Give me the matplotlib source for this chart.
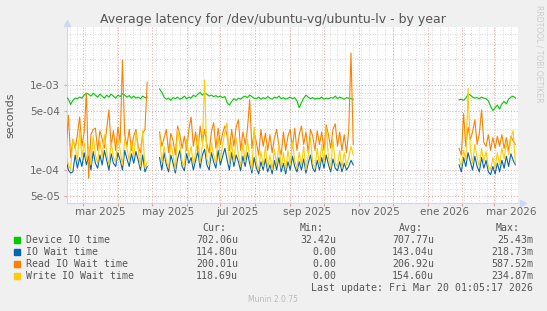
import numpy as np
import pandas as pd
import matplotlib
matplotlib.use('Agg')
import matplotlib.pyplot as plt
import matplotlib.ticker as ticker
from matplotlib.patches import Rectangle

# latency values in microseconds, one sample every 2 days, three segments (gaps between)
seg_starts = ['2025-02-14', '2025-05-08', '2026-01-29']

device_s1 = [720, 680, 590, 660, 700, 690, 720, 700, 760, 800,
             780, 740, 800, 760, 720, 780, 740, 700, 760, 720,
             780, 740, 700, 760, 730, 790, 760, 720, 750, 700,
             740, 700, 720, 690, 740, 710, 720]
iowait_s1 = [130, 100, 92, 95, 150, 105, 140, 110, 160, 115,
             145, 100, 165, 120, 105, 150, 115, 170, 130, 100,
             155, 120, 110, 160, 130, 100, 170, 135, 110, 155,
             120, 165, 130, 100, 150, 95, 110]
read_s1 = [170, 440, 140, 230, 180, 260, 420, 190, 280, 800,
           80, 260, 300, 310, 170, 290, 230, 180, 300, 510,
           190, 290, 170, 320, 210, 1970, 260, 190, 300, 170,
           250, 300, 190, 160, 270, 300, 1080]
write_s1 = [150, 115, 100, 230, 190, 125, 300, 140, 210, 130,
            190, 115, 250, 150, 120, 220, 140, 260, 160, 115,
            210, 140, 125, 240, 170, 115, 230, 180, 130, 220,
            140, 280, 170, 110, 290, 105, 125]

device_s2 = [900, 820, 720, 680, 700, 660, 710, 690, 720, 680,
             700, 740, 690, 720, 700, 760, 730, 780, 820, 760,
             800, 780, 740, 760, 730, 750, 720, 740, 710, 730,
             620, 580, 640, 690, 660, 700, 680, 720, 740, 710,
             760, 730, 700, 690, 720, 680, 710, 690, 730, 700,
             680, 720, 700, 740, 690, 710, 680, 700, 720, 690,
             710, 650, 540, 620, 700, 760, 720, 690, 710, 680,
             700, 690, 720, 680, 700, 690, 710, 700, 740, 690,
             720, 700, 680, 710, 700, 690, 680]
iowait_s2 = [140, 100, 160, 115, 95, 150, 120, 92, 135, 170,
             110, 98, 155, 120, 140, 100, 130, 165, 105, 150,
             175, 115, 100, 160, 125, 105, 170, 115, 145, 180,
             130, 100, 160, 110, 150, 125, 98, 145, 110, 160,
             120, 92, 140, 105, 90, 125, 100, 135, 95, 115,
             90, 130, 100, 140, 95, 120, 90, 125, 100, 145,
             110, 95, 125, 100, 135, 92, 120, 150, 105, 95,
             130, 100, 140, 105, 150, 115, 95, 135, 105, 98,
             125, 95, 120, 100, 110, 130, 115]
read_s2 = [280, 190, 240, 300, 160, 270, 220, 150, 330, 260,
           180, 250, 170, 300, 420, 190, 280, 160, 330, 210,
           300, 200, 160, 280, 360, 180, 310, 200, 270, 330,
           250, 170, 300, 190, 320, 390, 170, 280, 200, 300,
           670, 180, 280, 210, 150, 300, 190, 270, 170, 260,
           160, 240, 300, 190, 150, 280, 170, 250, 300, 180,
           310, 170, 260, 330, 200, 280, 160, 300, 250, 170,
           290, 200, 280, 170, 340, 260, 180, 300, 350, 190,
           280, 170, 260, 160, 290, 2380, 200]
write_s2 = [260, 120, 190, 130, 105, 210, 150, 100, 300, 200,
            125, 110, 230, 140, 190, 115, 160, 260, 120, 200,
            1150, 135, 115, 210, 150, 120, 250, 130, 200, 280,
            360, 115, 210, 125, 240, 150, 110, 210, 125, 230,
            140, 100, 320, 120, 100, 165, 110, 190, 105, 150,
            100, 175, 115, 200, 105, 160, 100, 170, 115, 220,
            130, 105, 160, 115, 190, 100, 150, 240, 120, 105,
            180, 110, 200, 120, 320, 140, 105, 230, 120, 110,
            170, 105, 160, 115, 140, 190, 150]

device_s3 = [670, 680, 660, 700, 780, 760, 720, 700, 710, 690,
             720, 700, 690, 650, 560, 500, 540, 580, 520, 600,
             640, 600, 680, 720, 740, 702]
iowait_s3 = [115, 95, 140, 110, 160, 125, 100, 145, 110, 95,
             140, 105, 130, 95, 88, 110, 90, 120, 95, 130,
             105, 145, 110, 155, 130, 115]
read_s3 = [180, 150, 460, 190, 320, 230, 280, 390, 200, 270,
           510, 210, 190, 260, 170, 240, 180, 250, 190, 260,
           180, 240, 170, 250, 220, 200]
write_s3 = [135, 110, 170, 130, 920, 170, 120, 200, 140, 110,
            180, 125, 165, 110, 100, 140, 105, 160, 115, 180,
            135, 210, 150, 240, 290, 119]

names = ['Device IO time', 'IO Wait time', 'Read IO Wait time', 'Write IO Wait time']
colors = ['#00cc00', '#0066b3', '#ff8000', '#ffcc00']
cur = ['702.06u', '114.80u', '200.01u', '118.69u']
vmin = ['32.42u', '0.00', '0.00', '0.00']
vavg = ['707.77u', '143.04u', '206.92u', '154.60u']
vmax = ['25.43m', '218.73m', '587.52m', '234.87m']

ytick_vals = [5e-5, 1e-4, 5e-4, 1e-3]
ytick_labels = ['5e-05', '1e-04', '5e-04', '1e-03']
xlabel_dates = ['2025-03-16', '2025-05-16', '2025-07-16', '2025-09-16',
                '2025-11-16', '2026-01-16', '2026-03-16']
xlabel_text = ['mar 2025', 'may 2025', 'jul 2025', 'sep 2025',
               'nov 2025', 'ene 2026', 'mar 2026']


def join(segs):
    """concatenate segments with a NaN row between so the line breaks"""
    parts = []
    for start, vals in zip(seg_starts, segs):
        idx = pd.date_range(start, periods=len(vals), freq='2D')
        s = pd.Series(np.array(vals, dtype=float) * 1e-6, index=idx)
        gap = pd.Series([np.nan], index=[idx[-1] + pd.Timedelta(days=1)])
        parts += [s, gap]
    return pd.concat(parts[:-1])


series = [join([device_s1, device_s2, device_s3]),
          join([iowait_s1, iowait_s2, iowait_s3]),
          join([read_s1, read_s2, read_s3]),
          join([write_s1, write_s2, write_s3])]

W, H = 547, 311
fig = plt.figure(figsize=(W / 100, H / 100), dpi=100, facecolor='#f0f0f0')
ax = fig.add_axes([66.7 / W, 1 - 203 / H, (518 - 66.7) / W, (203 - 27) / H])
ax.set_facecolor('white')

for s, c in zip(series, colors):
    ax.plot(s.index, s.values, color=c, lw=0.8, zorder=3)

ax.set_yscale('log')
ax.set_ylim(4.09e-5, 4.81e-3)
ax.set_xlim(pd.Timestamp('2025-02-14 12:00'), pd.Timestamp('2026-03-22 08:00'))

ax.set_yticks(ytick_vals, ytick_labels)
ax.yaxis.set_minor_locator(ticker.LogLocator(base=10, subs=(2, 3, 4, 6, 7, 8, 9)))
ax.yaxis.set_minor_formatter(ticker.NullFormatter())

months = pd.date_range('2025-03-01', '2026-03-01', freq='MS')
ax.set_xticks(months, [''] * len(months))
ax.set_xticks(pd.to_datetime(xlabel_dates), xlabel_text, minor=True)

ax.set_axisbelow(True)
dots = (0, (1, 2))
ax.yaxis.grid(True, which='major', color='#e8a0a0', lw=0.7, ls=dots)
ax.yaxis.grid(True, which='minor', color='#cccccc', lw=0.6, ls=dots)
ax.xaxis.grid(True, which='major', color='#e8a0a0', lw=0.7, ls=dots)
for d in pd.date_range('2025-02-17', '2026-03-16', freq='W-MON'):
    ax.axvline(d, color='#cccccc', lw=0.6, ls=dots, zorder=0.5)

ax.tick_params(axis='both', which='both', labelsize=7.5, labelcolor='#666666', pad=3)
ax.tick_params(axis='x', which='minor', length=0)
ax.tick_params(axis='x', which='major', length=2, color='#e8a0a0')
ax.tick_params(axis='y', which='major', length=2, color='#e8a0a0')
ax.tick_params(axis='y', which='minor', length=0)

for sp in ['top', 'right']:
    ax.spines[sp].set_visible(False)
for sp in ['left', 'bottom']:
    ax.spines[sp].set_color('#cfd6f8')
ax.plot([0], [1.02], marker='^', color='#cfd6f8', ms=4, transform=ax.transAxes, clip_on=False)
ax.plot([1.01], [0], marker='>', color='#cfd6f8', ms=4, transform=ax.transAxes, clip_on=False)

fig.text(273 / W, 1 - 19 / H, 'Average latency for /dev/ubuntu-vg/ubuntu-lv - by year',
         ha='center', va='center', fontsize=9, color='#555555')
fig.text(10 / W, 1 - 115 / H, 'seconds', rotation=90, ha='center', va='center',
         fontsize=8, color='#555555')
fig.text(539 / W, 1 - 5 / H, 'RRDTOOL / TOBI OETIKER', rotation=270, ha='center', va='top',
         fontsize=5.5, color='#cccccc')

mono = dict(family='DejaVu Sans Mono', fontsize=7.1, color='#555555', va='center')
for hx, ht in zip([202, 300, 399, 496], ['Cur:', 'Min:', 'Avg:', 'Max:']):
    fig.text(hx / W, 1 - 228 / H, ht, ha='left', **mono)
for i, name in enumerate(names):
    y = 240 + 12 * i
    fig.add_artist(Rectangle((14 / W, 1 - (y + 3) / H), 6 / W, 6 / H,
                             transform=fig.transFigure, color=colors[i]))
    fig.text(26 / W, 1 - y / H, name, ha='left', **mono)
    for vx, vals in zip([238, 336, 434, 533], [cur, vmin, vavg, vmax]):
        fig.text(vx / W, 1 - y / H, vals[i], ha='right', **mono)
fig.text(533 / W, 1 - 288 / H, 'Last update: Fri Mar 20 01:05:17 2026', ha='right', **mono)
fig.text(273 / W, 1 - 300 / H, 'Munin 2.0.75', ha='center', va='center',
         fontsize=5.5, color='#bbbbbb')

fig.savefig('out.png', dpi=100, facecolor=fig.get_facecolor())
